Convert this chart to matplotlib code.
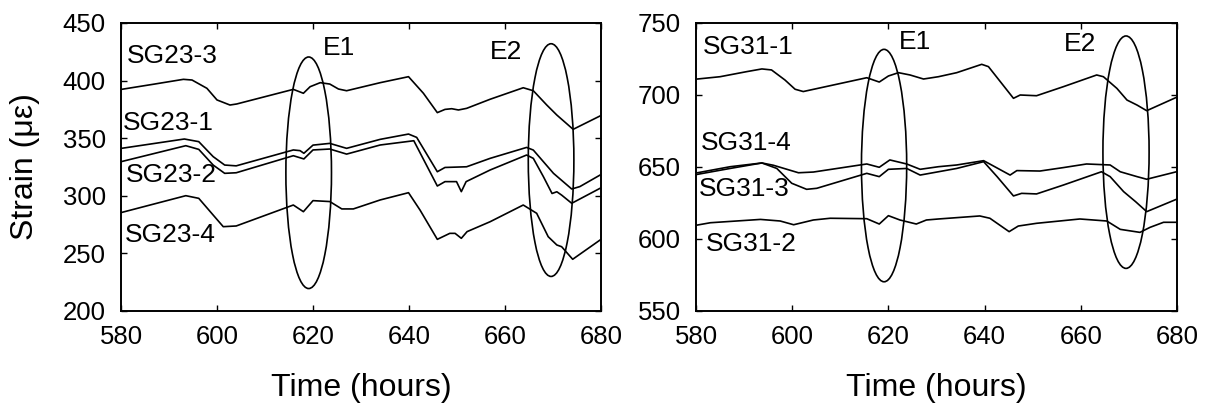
import matplotlib
matplotlib.use('Agg')
import matplotlib.pyplot as plt
from matplotlib.patches import Ellipse

plt.rcParams['font.family'] = ['Liberation Sans', 'DejaVu Sans']

# ---- left panel: SG23 gauges ----
t23_3 = [580.1, 586.7, 593.0, 594.8, 597.9, 600.0, 602.7, 604.1, 615.9, 618.0, 619.4, 621.5, 623.5, 625.3,
         627.0, 634.0, 639.9, 643.0, 645.9, 647.5, 648.9, 650.3, 652.0, 656.9, 663.8, 665.9, 668.7, 670.8,
         674.2, 679.8]
sg23_3 = [392.4, 396.8, 401.1, 400.5, 393.3, 383.2, 378.8, 379.7, 392.4, 389.0, 394.7, 398.2, 397.0, 392.7,
          391.2, 398.2, 403.4, 389.0, 372.2, 375.0, 375.6, 374.5, 375.9, 383.8, 393.8, 391.2, 378.8, 370.1,
          357.7, 369.3]

t23_1 = [580.1, 593.2, 596.2, 599.2, 601.6, 604.0, 615.9, 617.3, 618.1, 620.0, 623.5, 627.0, 634.0, 639.9,
         641.6, 645.9, 647.5, 652.0, 656.9, 664.5, 665.9, 670.1, 673.9, 675.6, 679.8]
sg23_1 = [341.2, 349.3, 347.0, 334.0, 326.7, 326.0, 339.8, 339.2, 336.9, 344.0, 345.5, 341.2, 349.0, 353.6,
          350.7, 320.9, 324.6, 325.2, 332.5, 342.0, 339.7, 319.5, 305.9, 308.0, 318.0]

t23_2 = [580.0, 593.5, 596.2, 599.2, 601.6, 604.0, 615.9, 618.1, 620.0, 623.5, 627.0, 634.0, 641.0, 645.9,
         647.5, 649.9, 650.9, 651.9, 656.9, 664.5, 665.9, 668.0, 669.8, 670.8, 671.8, 673.9, 679.8]
sg23_2 = [329.6, 343.5, 340.3, 326.7, 319.5, 320.0, 334.8, 332.0, 339.8, 340.6, 336.2, 344.1, 347.8, 308.5,
          312.3, 312.3, 303.6, 312.3, 322.4, 335.4, 332.5, 316.6, 302.0, 303.5, 300.6, 293.5, 306.5]

t23_4 = [580.0, 593.5, 596.2, 599.2, 601.3, 604.0, 615.9, 618.0, 620.0, 623.5, 626.0, 628.4, 634.0, 639.9,
         642.3, 645.9, 648.5, 649.6, 650.9, 652.1, 656.9, 663.8, 666.6, 669.0, 670.8, 671.8, 674.1, 679.8]
sg23_4 = [285.4, 300.1, 297.8, 283.3, 273.2, 273.8, 292.0, 286.2, 295.8, 295.0, 288.6, 288.6, 296.4, 302.7,
          287.6, 262.2, 267.4, 267.4, 263.1, 268.9, 277.5, 292.0, 284.8, 264.5, 257.3, 255.8, 244.9, 261.6]

# ---- right panel: SG31 gauges ----
t31_1 = [580.3, 585.0, 590.5, 593.7, 595.7, 598.5, 600.6, 602.3, 615.5, 618.1, 620.0, 622.1, 624.5, 627.3,
         630.4, 634.2, 639.4, 640.8, 646.0, 647.4, 650.8, 656.4, 663.3, 664.7, 667.5, 669.6, 671.7, 673.7, 679.9]
sg31_1 = [711.1, 712.7, 716.2, 718.1, 717.4, 710.4, 704.0, 702.4, 712.0, 709.0, 713.2, 715.5, 713.9, 711.1,
          712.7, 715.5, 721.3, 719.7, 697.7, 700.0, 699.5, 705.8, 713.9, 712.7, 704.6, 696.5, 693.0, 689.1, 698.4]

t31_4 = [580.3, 587.1, 593.7, 596.1, 601.3, 604.4, 615.5, 618.1, 620.3, 623.8, 626.6, 630.4, 634.2, 639.8,
         645.3, 646.7, 651.5, 656.4, 661.2, 666.1, 668.2, 671.7, 673.7, 679.9]
sg31_4 = [646.0, 650.2, 652.8, 651.2, 646.0, 646.5, 652.1, 649.8, 654.9, 652.1, 648.4, 650.2, 651.4, 654.4,
          644.4, 647.5, 647.2, 649.6, 652.1, 651.4, 646.7, 643.3, 641.5, 646.7]

t31_3 = [580.3, 587.1, 593.7, 596.8, 599.9, 603.0, 605.1, 615.5, 618.1, 620.0, 623.8, 626.6, 630.4, 634.2,
         639.8, 642.6, 646.0, 647.7, 650.8, 656.4, 664.3, 666.1, 668.9, 671.4, 673.7, 679.9]
sg31_3 = [644.9, 649.0, 652.8, 649.0, 638.7, 634.5, 635.2, 645.6, 643.3, 648.4, 649.0, 644.4, 646.7, 649.0,
          653.7, 643.3, 629.9, 631.7, 631.3, 637.5, 646.7, 643.3, 632.9, 625.9, 619.0, 627.6]

t31_2 = [580.3, 583.0, 593.4, 597.5, 600.3, 604.4, 607.9, 615.5, 618.1, 620.0, 622.4, 625.8, 627.9, 630.4,
         639.0, 641.1, 645.1, 647.0, 650.8, 659.8, 665.4, 668.2, 672.3, 674.4, 677.2, 679.9]
sg31_2 = [609.7, 611.3, 613.6, 612.5, 609.9, 613.2, 614.4, 614.1, 610.4, 616.2, 613.2, 610.4, 613.2, 613.9,
          616.0, 614.4, 605.1, 609.0, 610.9, 613.9, 612.5, 606.7, 604.6, 608.1, 611.6, 611.6]

# label text, x, y
labels23 = [('SG23-3', 581.2, 421), ('SG23-1', 580.4, 363.6), ('SG23-2', 581.0, 318), ('SG23-4', 580.8, 266)]
labels31 = [('SG31-1', 581.4, 733.5), ('SG31-4', 581.0, 667), ('SG31-3', 580.5, 634.7), ('SG31-2', 582.1, 596.5)]

# events: name, text x, text y, ellipse cx, cy, w, h
events23 = [('E1', 622.0, 428, 619.1, 320, 9.5, 201), ('E2', 656.9, 425, 669.6, 331, 9.5, 202)]
events31 = [('E1', 622.1, 737, 619.1, 651, 9.4, 161.4), ('E2', 656.4, 735.6, 669.4, 660.3, 9.6, 161.4)]

fig = plt.figure(figsize=(12.07, 4.11), dpi=100)
ax0 = fig.add_axes([121/1207, 100/411, 480/1207, 288/411])
ax1 = fig.add_axes([696/1207, 100/411, 481/1207, 288/411])

lw = 1.2
for t, s in [(t23_3, sg23_3), (t23_1, sg23_1), (t23_2, sg23_2), (t23_4, sg23_4)]:
    ax0.plot(t, s, color='black', lw=lw)
for t, s in [(t31_1, sg31_1), (t31_4, sg31_4), (t31_3, sg31_3), (t31_2, sg31_2)]:
    ax1.plot(t, s, color='black', lw=lw)

for ax, labs, evs in [(ax0, labels23, events23), (ax1, labels31, events31)]:
    for txt, x, y in labs:
        ax.text(x, y, txt, fontsize=19, ha='left', va='center')
    for name, tx, ty, cx, cy, w, h in evs:
        ax.text(tx, ty, name, fontsize=19, ha='left', va='center')
        ax.add_patch(Ellipse((cx, cy), w, h, fill=False, edgecolor='black', lw=lw))

ax0.set_xlim(580, 680)
ax0.set_ylim(200, 450)
ax0.set_yticks([200, 250, 300, 350, 400, 450])
ax1.set_xlim(580, 680)
ax1.set_ylim(550, 750)
ax1.set_yticks([550, 600, 650, 700, 750])

for ax in (ax0, ax1):
    ax.set_xticks([580, 600, 620, 640, 660, 680])
    ax.tick_params(direction='in', top=True, right=True, length=4.5, width=1,
                   labelsize=18.5)
    ax.tick_params(axis='y', pad=11)
    ax.tick_params(axis='x', pad=10)
    for sp in ax.spines.values():
        sp.set_linewidth(1.4)
    ax.set_xlabel('Time (hours)', fontsize=23)
    ax.xaxis.set_label_coords(0.5, -0.215)

ax0.set_ylabel('Strain (\u03bc\u03b5)', fontsize=23)
ax0.yaxis.set_label_coords(-0.169, 0.5)

fig.savefig('out.png', dpi=100)
